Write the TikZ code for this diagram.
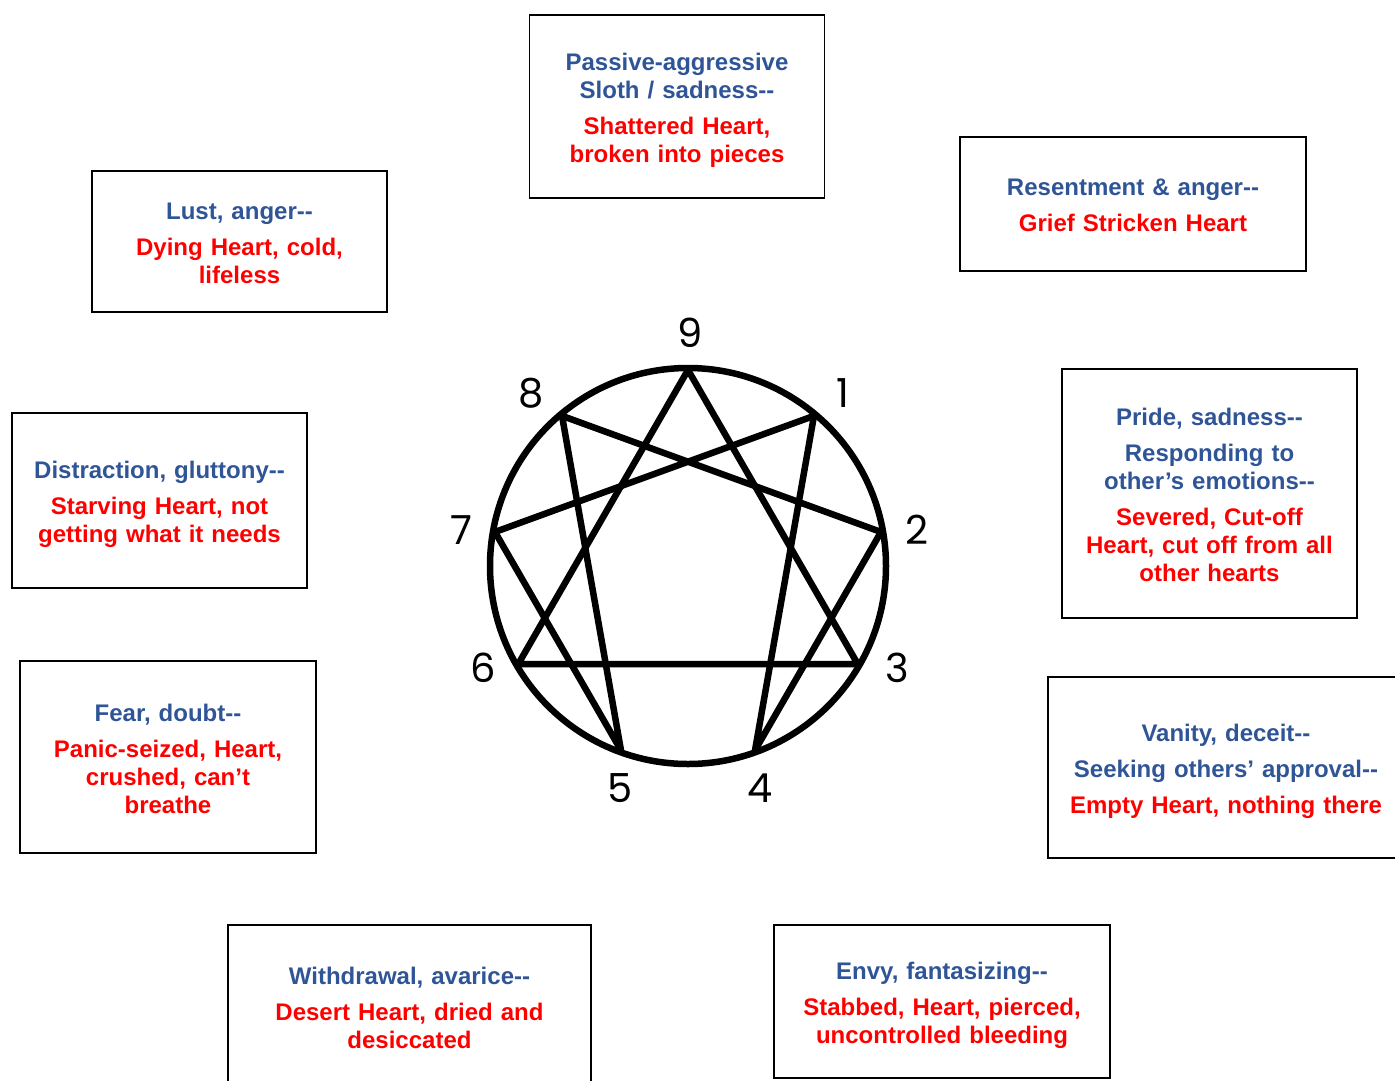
\documentclass[tikz,border=0pt]{standalone}
\usepackage{fontspec}
\setmainfont{Liberation Sans}
\newfontfamily\digitfont{Poppins}
\usepackage{xcolor}
\usetikzlibrary{positioning, calc}
\definecolor{SinBlue}{HTML}{2F5597}
\definecolor{HeartRed}{HTML}{FF0000}
\newcommand{\ddash}{-\kern0pt-}
\tikzset{
  heartbox/.style 2 args={draw=black, line width=1.8pt, minimum width=#1pt, minimum height=#2pt, inner sep=0pt},
  hearttext/.style={text width=#1pt, inner sep=0pt, align=center, font=\fontsize{24}{28}\selectfont\bfseries},
  digit/.style={font=\digitfont\fontsize{40}{40}\selectfont, inner sep=0pt}
}

\begin{document}
\begin{tikzpicture}[x=1pt, y=-1pt]
    \useasboundingbox (0,0) rectangle (1395,1080);
    \clip (0,0) rectangle (1395,1080);

    % the nine boxes
    \foreach \name/\x/\y/\w/\h in {sloth/677/106.5/295/183, anger/1133/204/346/134, lust/239.5/241.5/295/141,
        pride/1209.5/493.5/295/249, gluttony/159.5/500.5/295/175, fear/168/757/296/192,
        vanity/1226/767.5/356/181, avarice/409.5/1012.5/363/175, envy/942/1001.5/336/153} {
        \node[heartbox={\w}{\h}] (\name box) at (\x,\y) {};
    }

    % their texts
    \node[hearttext=290] (sloth) at ([yshift=-4pt]slothbox.center) {\color{SinBlue}Passive-aggressive\\Sloth / sadness\ddash\\[8pt]\color{HeartRed}Shattered Heart,\\broken into pieces};
    \node[hearttext=340] (anger) at ([yshift=-1pt]angerbox.center) {\color{SinBlue}Resentment \& anger\ddash\\[8pt]\color{HeartRed}Grief Stricken Heart};
    \node[hearttext=290] (lust) at ([yshift=-2pt]lustbox.center) {\color{SinBlue}Lust, anger\ddash\\[8pt]\color{HeartRed}Dying Heart, cold,\\lifeless};
    \node[hearttext=290] (pride) at ([yshift=-1pt]pridebox.center) {\color{SinBlue}Pride, sadness\ddash\\[8pt]Responding to\\other’s emotions\ddash\\[8pt]\color{HeartRed}Severed, Cut-off\\Heart, cut off from all\\other hearts};
    \node[hearttext=290] (gluttony) at ([yshift=-4pt]gluttonybox.center) {\color{SinBlue}Distraction, gluttony\ddash\\[8pt]\color{HeartRed}Starving Heart, not\\getting what it needs};
    \node[hearttext=290] (fear) at ([yshift=-2pt]fearbox.center) {\color{SinBlue}Fear, doubt\ddash\\[8pt]\color{HeartRed}Panic-seized, Heart,\\crushed, can’t\\breathe};
    \node[hearttext=350] (vanity) at ([yshift=-4pt]vanitybox.center) {\color{SinBlue}Vanity, deceit\ddash\\[8pt]Seeking others’ approval\ddash\\[8pt]\color{HeartRed}Empty Heart, nothing there};
    \node[hearttext=355] (avarice) at ([yshift=5pt]avaricebox.center) {\color{SinBlue}Withdrawal, avarice\ddash\\[8pt]\color{HeartRed}Desert Heart, dried and\\desiccated};
    \node[hearttext=330] (envy) at ([yshift=-4pt]envybox.center) {\color{SinBlue}Envy, fantasizing\ddash\\[8pt]\color{HeartRed}Stabbed, Heart, pierced,\\uncontrolled bleeding};

    % the enneagram
    \begin{scope}[line width=6.5pt, line join=round]
        \coordinate (c) at (688,566);
        \draw (c) circle (198);
        \foreach \n in {1,...,9} {
            \coordinate (p\n) at ($(c)+({40*\n-90}:196)$);
        }
        \foreach \n/\lx/\ly in {1/843/393, 2/917/530, 3/897/668, 4/760/788, 5/620/788,
                               6/483/668, 7/461/530, 8/531/393, 9/690/333} {
            \node[digit] (d\n) at (\lx,\ly) {\n};
        }
        \draw (p9) -- (p3) -- (p6) -- cycle;
        \draw (p1) -- (p4) -- (p2) -- (p8) -- (p5) -- (p7) -- cycle;
    \end{scope}
\end{tikzpicture}
\end{document}
